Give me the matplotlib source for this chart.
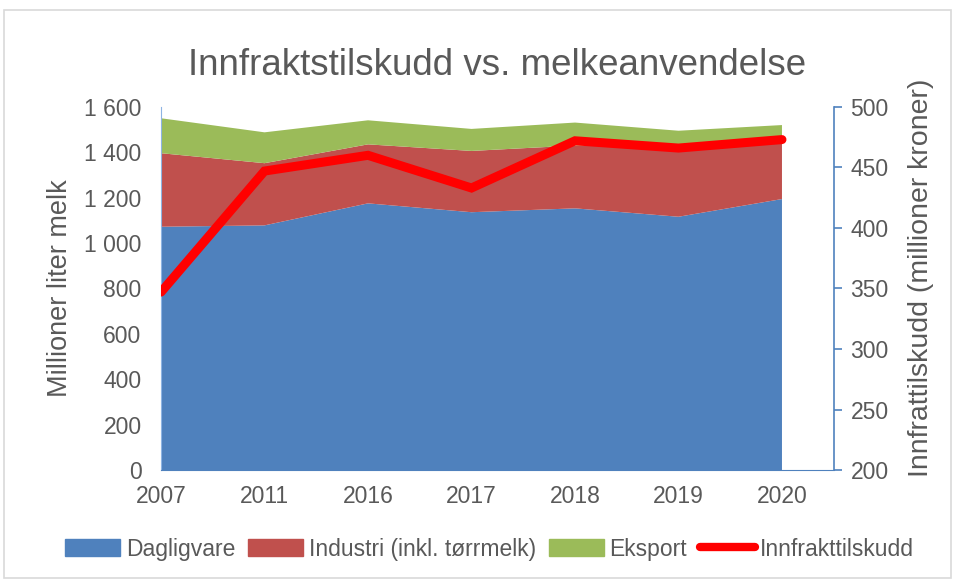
import numpy as np
import matplotlib
matplotlib.use("Agg")
import matplotlib.pyplot as plt
from matplotlib.patches import Rectangle
from matplotlib.lines import Line2D
from matplotlib.patches import Patch

plt.rcParams['font.family'] = ['Liberation Sans', 'DejaVu Sans']

# data
years = ['2007', '2011', '2016', '2017', '2018', '2019', '2020']
dagligvare = [1072, 1078, 1175, 1136, 1153, 1116, 1194]
industri = [324, 274, 260, 270, 277, 306, 246]
eksport = [154, 136, 106, 97, 101, 73, 80]
innfrakt = [347, 447, 460, 433, 472, 466, 473]

col_blue = '#4F81BD'
col_red = '#C0504D'
col_green = '#9BBB59'
txt = '#595959'
axcol = '#4F81BD'

fig = plt.figure(figsize=(9.55, 5.81), dpi=100)
fig.patches.append(Rectangle((0.004, 0.005), 0.992, 0.978, transform=fig.transFigure,
                             fill=False, edgecolor='#D9D9D9', lw=1.2))

ax = fig.add_axes([0.1686, 0.191, 0.7044, 0.625])
x = np.arange(len(years))
ax.stackplot(x, dagligvare, industri, eksport, colors=[col_blue, col_red, col_green],
             edgecolor='none')
ax.set_xlim(0, 6.5)
ax.set_ylim(0, 1600)
ax.set_yticks(range(0, 1601, 200))
ax.set_yticklabels([f"{v:,}".replace(",", " ") for v in range(0, 1601, 200)])
ax.set_xticks(x)
ax.set_xticklabels(years)
ax.tick_params(axis='x', length=0, pad=11, labelsize=16.5, colors=txt)
ax.tick_params(axis='y', length=0, pad=14, labelsize=16.5, colors=txt)
for s in ['top', 'right']:
    ax.spines[s].set_visible(False)
ax.spines['left'].set_color('#8EB4E3')
ax.spines['bottom'].set_color(axcol)
ax.set_ylabel('Millioner liter melk', fontsize=19.5, color=txt, labelpad=8)

ax2 = ax.twinx()
ax2.plot(x, innfrakt, color='#FF0000', lw=6.5, solid_capstyle='round', solid_joinstyle='miter')
ax2.set_ylim(200, 500)
ax2.set_yticks(range(200, 501, 50))
ax2.tick_params(axis='y', length=6, width=1.2, color=axcol, pad=6, labelsize=16.5, labelcolor=txt)
for s in ['top', 'left', 'bottom']:
    ax2.spines[s].set_visible(False)
ax2.spines['right'].set_color(axcol)
ax2.spines['right'].set_linewidth(1.2)
ax2.set_ylabel('Innfrattilskudd (millioner kroner)', fontsize=20.5, color=txt)
ax2.yaxis.set_label_coords(1.11, 0.53)

fig.suptitle('Innfraktstilskudd vs. melkeanvendelse', fontsize=26.5, color=txt, y=0.918, x=0.521)

handles = [Patch(color=col_blue), Patch(color=col_red), Patch(color=col_green),
           Line2D([0], [0], color='#FF0000', lw=6, solid_capstyle='round')]
labels = ['Dagligvare', 'Industri (inkl. tørrmelk)', 'Eksport', 'Innfrakttilskudd']
fig.legend(handles, labels, loc='center', bbox_to_anchor=(0.513, 0.055), ncol=4, frameon=False,
           fontsize=16.5, labelcolor=txt, handlelength=2.4, handletextpad=0.25, columnspacing=0.55,
           handleheight=0.75)

fig.savefig('out.png', dpi=100)
